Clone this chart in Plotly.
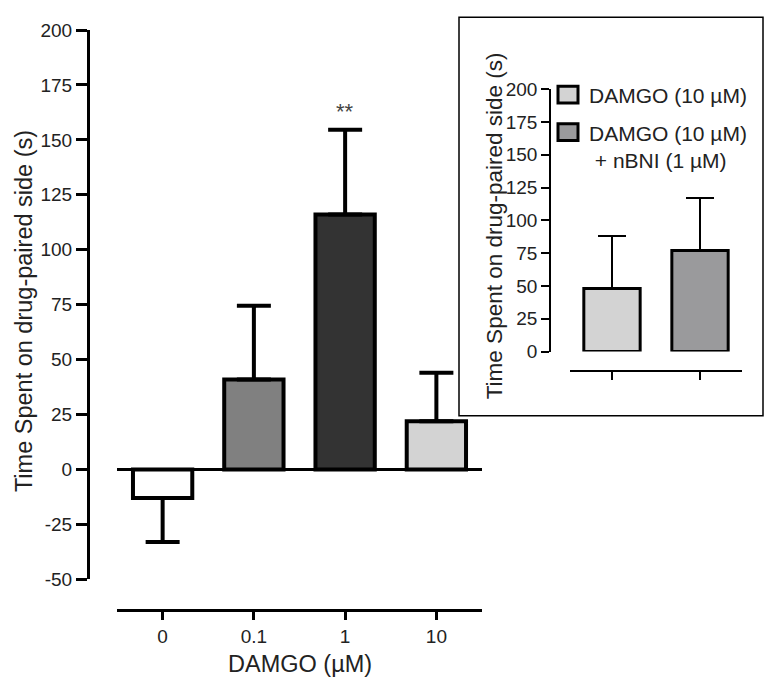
import plotly.graph_objects as go

# ---- data ----
categories = ["0", "0.1", "1", "10"]
means = [-13, 41, 116, 22]
sems = [20, 33.5, 38.6, 22]
bar_colors = ["#ffffff", "#808080", "#333333", "#d3d3d3"]

inset_names = ["DAMGO (10 µM)", "DAMGO (10 µM)<br> + nBNI (1 µM)"]
inset_means = [48, 77]
inset_sems = [40, 40]
inset_colors = ["#d3d3d3", "#9a9a9c"]

y_ticks = [-50, -25, 0, 25, 50, 75, 100, 125, 150, 175, 200]
y_ticklabels = ["-50", "-25", "0", "25", "50", "75", "100", "125", "150", "175", "200"]
inset_ticks = [0, 25, 50, 75, 100, 125, 150, 175, 200]
inset_ticklabels = ["0", "25", "50", "75", "100", "125", "150", "175", "200"]

FONT = "Arial, Liberation Sans, sans-serif"
TXT = "#222222"

fig = go.Figure()

# main bars
up = [s if m >= 0 else 0 for m, s in zip(means, sems)]
down = [s if m < 0 else 0 for m, s in zip(means, sems)]
fig.add_trace(go.Bar(
    x=list(range(len(categories))), y=means, width=0.65,
    marker=dict(color=bar_colors, line=dict(color="black", width=4)),
    error_y=dict(type="data", symmetric=False, array=up, arrayminus=down,
                 color="black", thickness=4, width=17),
    showlegend=False, xaxis="x", yaxis="y",
))

# inset bars
fig.add_trace(go.Bar(
    x=[0, 1], y=inset_means, width=0.64,
    marker=dict(color=inset_colors, line=dict(color="black", width=3)),
    error_y=dict(type="data", symmetric=False, array=inset_sems,
                 arrayminus=[0, 0], color="black", thickness=2, width=14),
    showlegend=False, xaxis="x2", yaxis="y2",
))

# paper geometry (page coords): paper x 88..742 (654px), y 22..610 (588px)
# page has an 8px body margin, so figure margins are reduced by 8
W, H = 654.0, 588.0
def px(x):
    return (x - 88) / W
def py(y):
    return (610 - y) / H

fig.update_layout(
    width=766, height=679,
    margin=dict(l=80, r=32, t=14, b=77, pad=0),
    paper_bgcolor="white", plot_bgcolor="white",
    font=dict(family=FONT, color=TXT),
    xaxis=dict(domain=[px(117), px(482)], range=[-0.5, 3.5],
               anchor="free", position=0,
               tickmode="array", tickvals=list(range(len(categories))),
               ticktext=categories,
               showline=True, linecolor="black", linewidth=3,
               ticks="outside", ticklen=8, tickwidth=3, tickcolor="black",
               tickfont=dict(size=19, color=TXT),
               showgrid=False, zeroline=False, fixedrange=True),
    yaxis=dict(domain=[py(579), 1], range=[-50, 200],
               anchor="free", position=0,
               tickmode="array", tickvals=y_ticks, ticktext=y_ticklabels,
               showline=True, linecolor="black", linewidth=3,
               ticks="outside", ticklen=11, tickwidth=3, tickcolor="black",
               tickfont=dict(size=19, color=TXT),
               showgrid=False, zeroline=True, zerolinecolor="black",
               zerolinewidth=3),
    xaxis2=dict(domain=[px(570), px(742)], range=[-0.477, 1.477],
                anchor="free", position=py(368),
                tickmode="array", tickvals=[0, 1], showticklabels=False,
                showline=True, linecolor="black", linewidth=1.5,
                ticks="outside", ticklen=8, tickwidth=1.5, tickcolor="black",
                showgrid=False, zeroline=False),
    yaxis2=dict(domain=[py(348), py(82)], range=[0, 200],
                anchor="free", position=px(550),
                tickmode="array", tickvals=inset_ticks, ticktext=inset_ticklabels,
                showline=True, linecolor="black", linewidth=1.5,
                ticks="outside", ticklen=8, tickwidth=1.5, tickcolor="black",
                tickfont=dict(size=19, color=TXT),
                showgrid=False, zeroline=False),
    bargap=0.3,
)

shapes = [
    # inset frame
    dict(type="rect", xref="paper", yref="paper",
         x0=px(459), x1=px(763), y0=py(413), y1=py(9),
         line=dict(color="black", width=1.5), fillcolor="rgba(0,0,0,0)",
         layer="below"),
    # legend swatches
    dict(type="rect", xref="paper", yref="paper",
         x0=px(558), x1=px(578), y0=py(96), y1=py(79),
         line=dict(color="black", width=3), fillcolor=inset_colors[0]),
    dict(type="rect", xref="paper", yref="paper",
         x0=px(558), x1=px(578), y0=py(134), y1=py(117),
         line=dict(color="black", width=3), fillcolor=inset_colors[1]),
]
fig.update_layout(shapes=shapes)

annotations = [
    dict(text="Time Spent on drug-paired side (s)", xref="paper", yref="paper",
         x=px(24), y=py(307), textangle=-90, showarrow=False,
         xanchor="center", yanchor="middle", font=dict(size=23.5, color=TXT)),
    dict(text="DAMGO (µM)", xref="paper", yref="paper",
         x=px(300), y=py(665), showarrow=False,
         xanchor="center", yanchor="middle", font=dict(size=23.5, color=TXT)),
    dict(text="**", xref="x", yref="y", x=2, y=163,
         showarrow=False, xanchor="center", yanchor="middle",
         font=dict(size=22, color="#444444")),
    dict(text="Time Spent on drug-paired side (s)", xref="paper", yref="paper",
         x=px(494), y=py(221), textangle=-90, showarrow=False,
         xanchor="center", yanchor="middle", font=dict(size=22.5, color=TXT)),
    dict(text=inset_names[0], xref="paper", yref="paper",
         x=px(587), y=py(88), showarrow=False, align="left",
         xanchor="left", yanchor="middle", font=dict(size=21, color=TXT)),
    dict(text=inset_names[1], xref="paper", yref="paper",
         x=px(587), y=py(141), showarrow=False, align="left",
         xanchor="left", yanchor="middle", font=dict(size=21, color=TXT)),
]
fig.update_layout(annotations=annotations)

fig.write_html("out.html")
